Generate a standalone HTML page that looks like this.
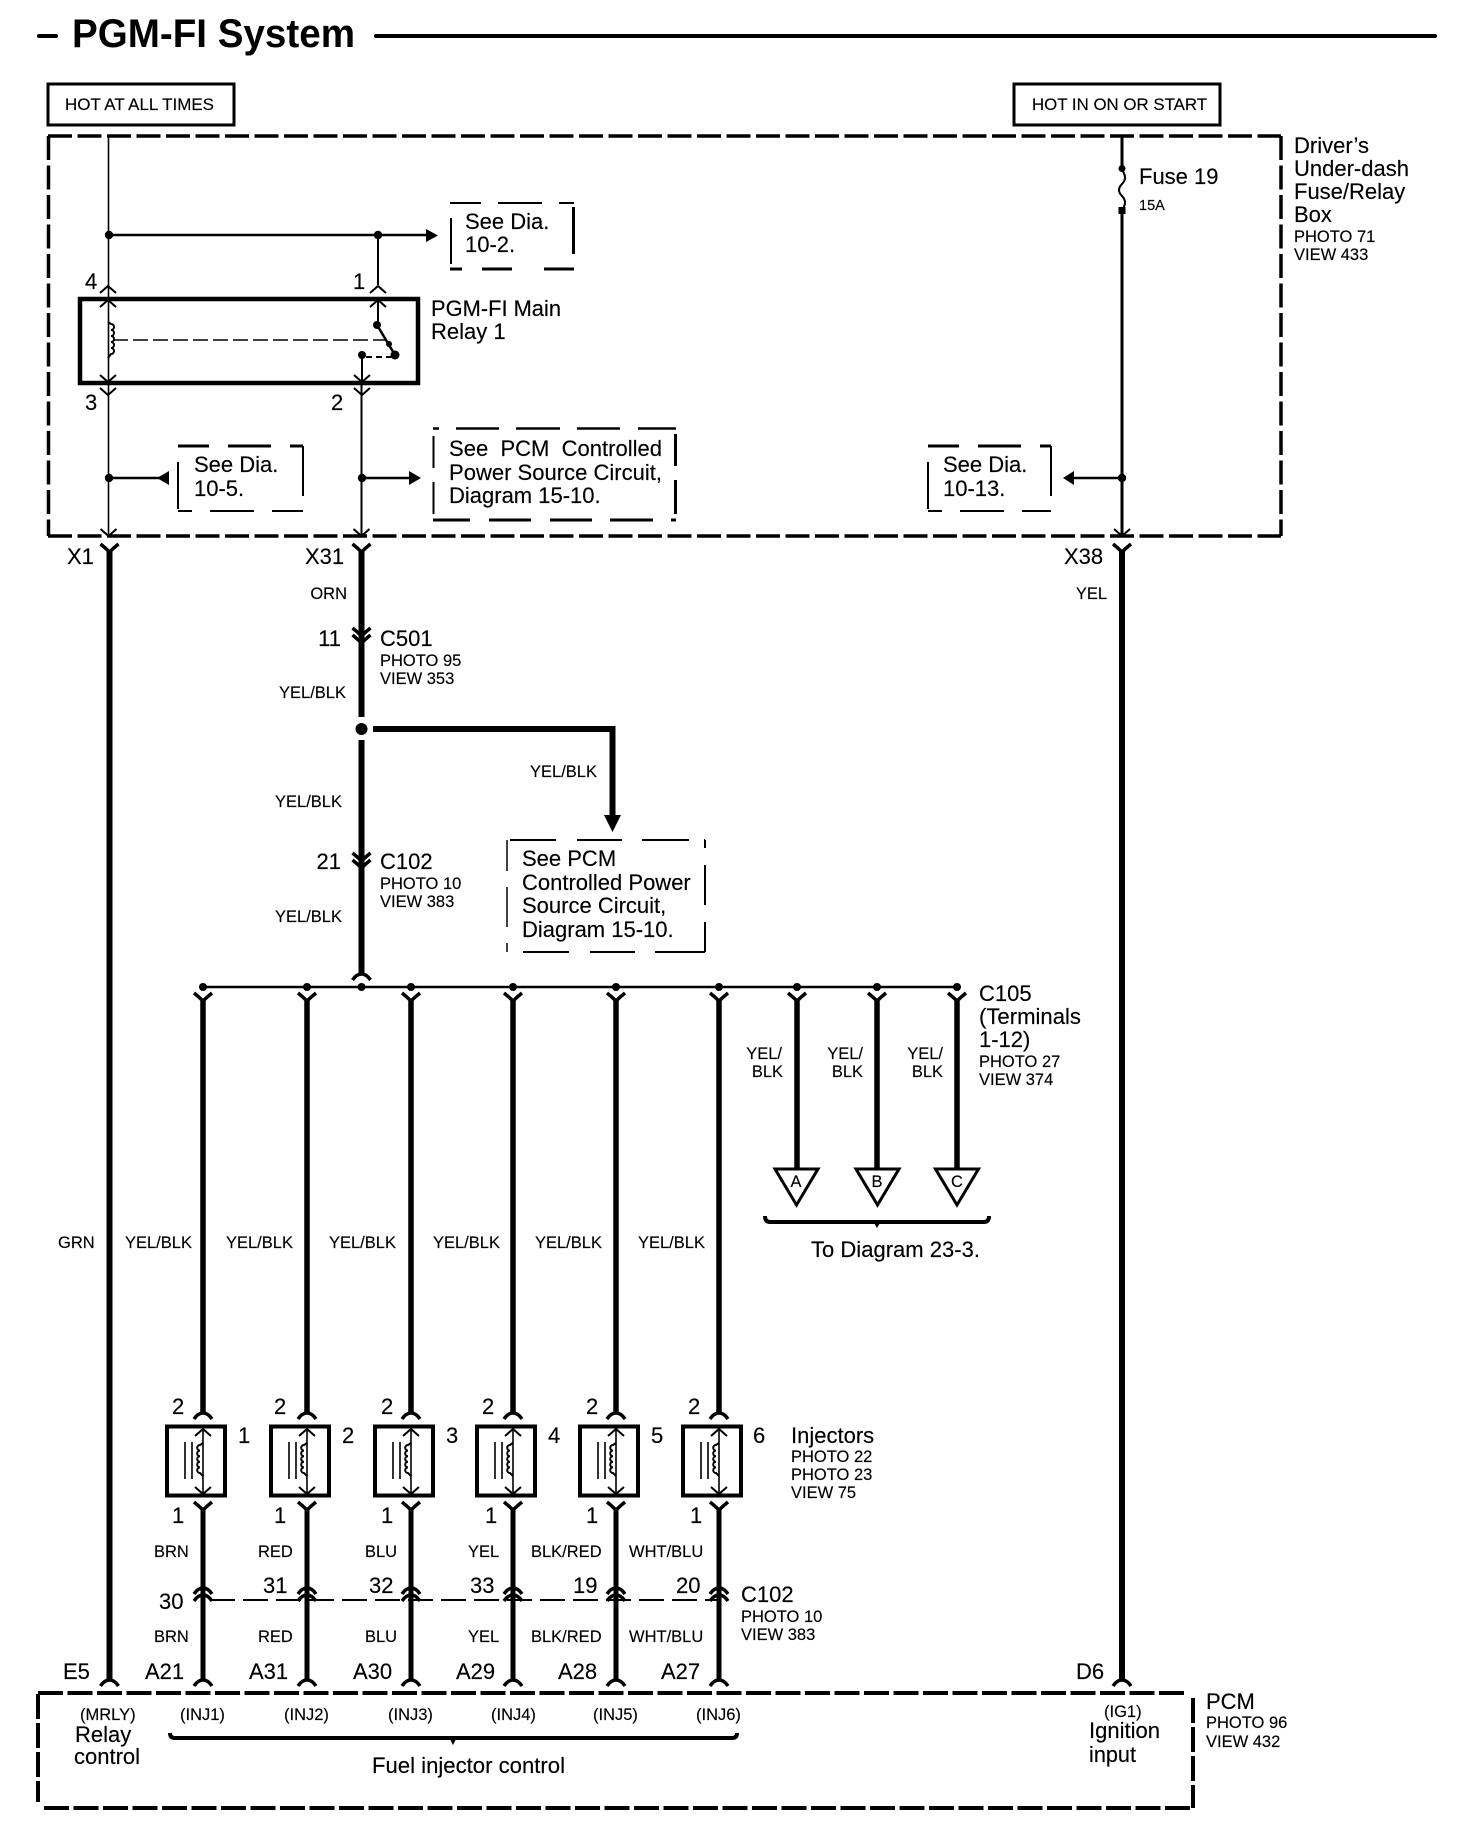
<!DOCTYPE html>
<html><head><meta charset="utf-8"><title>PGM-FI System</title>
<style>
html,body{margin:0;padding:0;background:#fff}
svg{display:block}
text{font-family:"Liberation Sans",Arial,sans-serif;font-size:22px;fill:#000;stroke:#000;stroke-width:.15px}
.s{font-size:16.5px}
.t{fill:none;stroke:#000}
</style></head><body>
<svg xmlns="http://www.w3.org/2000/svg" width="1472" height="1840" viewBox="0 0 1472 1840">
<defs>
<path id="up" d="M-8 7L0 0L8 7" fill="none" stroke="#000" stroke-width="2"/>
<path id="dn" d="M-8 -7L0 0L8 -7" fill="none" stroke="#000" stroke-width="2"/>
<path id="capU" d="M-9 6Q-5 0 0 0Q5 0 9 6" fill="none" stroke="#000" stroke-width="3.5"/>
<path id="capD" d="M-9 -7Q-4 -3 0 1Q4 -3 9 -7" fill="none" stroke="#000" stroke-width="3.5"/>
<g id="inj">
<rect x="-36" y="1426.500" width="58" height="69" fill="#fff" stroke="#000" stroke-width="4"/>
<path d="M0 1427V1495" class="t" stroke-width="1.6"/>
<use href="#up" x="0" y="1429"/>
<use href="#dn" x="0" y="1494"/>
<path d="M0 1443L-3 1445a2.800 2.800 0 0 0 0 5.600a2.800 2.800 0 0 0 0 5.600a2.800 2.800 0 0 0 0 5.600a2.800 2.800 0 0 0 0 5.600a2.800 2.800 0 0 0 0 5.600L0 1476" class="t" stroke-width="2"/>
<path d="M-18 1442V1479M-11 1442V1479" class="t" stroke-width="1.6"/>
</g>
</defs>

<!-- title -->
<path d="M39 36H56M376 36H1435" stroke="#000" stroke-width="4" stroke-linecap="round"/>
<text x="72" y="47" style="font-size:40px;font-weight:bold;stroke:none" textLength="283" lengthAdjust="spacingAndGlyphs">PGM-FI System</text>

<!-- hot boxes -->
<rect x="48" y="84" width="186" height="41" class="t" stroke-width="3"/>
<text class="s" x="65" y="110" textLength="149" lengthAdjust="spacingAndGlyphs">HOT AT ALL TIMES</text>
<rect x="1014" y="84" width="206" height="41" class="t" stroke-width="3"/>
<text class="s" x="1032" y="110" textLength="175" lengthAdjust="spacingAndGlyphs">HOT IN ON OR START</text>

<!-- under-dash box -->
<path d="M48 136H1281" class="t" stroke-width="3.5" stroke-dasharray="24 5.5"/>
<path d="M48 536H1281" class="t" stroke-width="3.5" stroke-dasharray="24 5.5"/>
<path d="M48.500 136V536" class="t" stroke-width="3.5" stroke-dasharray="24 5.5"/>
<path d="M1281 136V536" class="t" stroke-width="3.5" stroke-dasharray="24 5.5"/>

<text x="1294" y="153">Driver’s</text>
<text x="1294" y="176">Under-dash</text>
<text x="1294" y="199">Fuse/Relay</text>
<text x="1294" y="222">Box</text>
<text class="s" x="1294" y="242">PHOTO 71</text>
<text class="s" x="1294" y="260">VIEW 433</text>

<!-- thin wires upper left -->
<path d="M108.500 136V536" class="t" stroke-width="1.6"/>
<path d="M109 235H428" class="t" stroke-width="2.400"/>
<path d="M378 235V285" class="t" stroke-width="2"/>
<circle cx="109" cy="235" r="4.200"/><circle cx="378" cy="235" r="4.200"/>
<path d="M426 229V242L438 235.500Z"/>
<use href="#up" x="108" y="286"/><use href="#up" x="378" y="286"/>

<!-- 10-2 box -->
<path d="M450 203H481M498 203H542M559 203H574M451 218V264" class="t" stroke-width="2"/>
<path d="M573.500 207V254M450 269H462M482 269H512M544 269H574" class="t" stroke-width="3"/>
<text x="465" y="229">See Dia.</text><text x="465" y="252">10-2.</text>

<!-- relay -->
<rect x="80" y="299" width="338" height="84" class="t" stroke-width="4.500"/>
<use href="#up" x="108" y="300"/><use href="#up" x="378" y="300"/>
<use href="#dn" x="108" y="382"/><use href="#dn" x="362" y="382"/>
<path d="M378 299V325M362 355V383" class="t" stroke-width="2"/>
<path d="M108 322L111 324a3 3 0 0 1 0 6a3 3 0 0 1 0 6a3 3 0 0 1 0 6a3 3 0 0 1 0 6a3 3 0 0 1 0 6L108 358" class="t" stroke-width="2"/>
<path d="M113 340H385" class="t" stroke-width="1.500" stroke-dasharray="15 5"/>
<path d="M377 325L395 355" class="t" stroke-width="2.500"/>
<circle cx="377" cy="325" r="4"/><circle cx="389" cy="344" r="3"/><circle cx="395" cy="355" r="4.500"/><circle cx="362" cy="355" r="4"/>
<path d="M366 357H395" class="t" stroke-width="2" stroke-dasharray="6 4"/>
<text x="431" y="316" textLength="130" lengthAdjust="spacingAndGlyphs">PGM-FI Main</text><text x="431" y="339">Relay 1</text>
<text x="85" y="289">4</text><text x="353" y="289">1</text>
<text x="85" y="410">3</text><text x="331" y="410">2</text>
<use href="#dn" x="108" y="395"/><use href="#dn" x="362" y="395"/>

<path d="M361.500 383V536" class="t" stroke-width="2"/>
<circle cx="109" cy="478" r="4.200"/><circle cx="362" cy="478" r="4.200"/>
<path d="M109 478H160M362 478H412" class="t" stroke-width="2.400"/>
<path d="M169 471V485L157 478Z"/>
<path d="M409 471V485L421 478Z"/>

<!-- 10-5 box -->
<path d="M178 446H209M228 446H271M290 446H303" class="t" stroke-width="3"/>
<path d="M178 462V509M303 446V496M178 511H192M210 511H254M272 511H303" class="t" stroke-width="2"/>
<text x="194" y="472">See Dia.</text><text x="194" y="496">10-5.</text>

<!-- PCM box 1 -->
<path d="M433 428.500H439M456 428.500H499M516 428.500H560M577 428.500H620M638 428.500H676" class="t" stroke-width="2.500"/>
<path d="M433.500 436V468M433.500 482V514" class="t" stroke-width="2"/>
<path d="M675.500 434V466M675.500 480V514M433 520H470M489 520H531M550 520H592M610 520H653M671 520H676" class="t" stroke-width="3"/>
<text x="449" y="456" textLength="213" lengthAdjust="spacing" xml:space="preserve">See  PCM  Controlled</text>
<text x="449" y="480" textLength="213" lengthAdjust="spacingAndGlyphs">Power Source Circuit,</text>
<text x="449" y="503">Diagram 15-10.</text>

<!-- fuse wire -->
<path d="M1122 136V168M1122 211V536" class="t" stroke-width="3"/>
<circle cx="1122" cy="168.500" r="3.500"/><rect x="1118.500" y="207" width="7" height="7"/>
<path d="M1122 170Q1128 178 1122 184Q1116 190 1122 196Q1128 202 1122 210" class="t" stroke-width="2"/>
<text x="1139" y="184">Fuse 19</text><text x="1139" y="210" style="font-size:14.500px">15A</text>
<circle cx="1122" cy="478" r="4.200"/>
<path d="M1072 478H1122" class="t" stroke-width="2.400"/>
<path d="M1074 471V485L1063 478Z"/>

<!-- 10-13 box -->
<path d="M928 446H959M978 446H1021M1040 446H1051" class="t" stroke-width="3"/>
<path d="M928 462V509M1051 446V496M928 511H942M960 511H1004M1022 511H1051" class="t" stroke-width="2"/>
<text x="943" y="472">See Dia.</text><text x="943" y="496">10-13.</text>

<!-- entry chevrons -->
<use href="#dn" x="108.500" y="536"/><use href="#dn" x="361.500" y="536"/><use href="#dn" x="1122" y="536"/>
<text x="67" y="564">X1</text><text x="305" y="564">X31</text><text x="1064" y="564">X38</text>

<!-- main thick wires -->
<path d="M109.500 551V1680M1122 551V1680" class="t" stroke-width="6"/>
<use href="#capD" x="109.500" y="551"/><use href="#capD" x="361.500" y="551"/><use href="#capD" x="1122" y="551"/>
<path d="M361.500 551V717M361.500 740V974" class="t" stroke-width="6"/>
<use href="#capD" x="361.500" y="635"/><use href="#capD" x="361.500" y="642"/>
<use href="#capD" x="361.500" y="860"/><use href="#capD" x="361.500" y="867"/>
<use href="#capU" x="361.500" y="974"/>
<circle cx="361.500" cy="729" r="6"/>
<path d="M373 729H612.500V816" class="t" stroke-width="6"/>
<path d="M604 815H621L612.500 832Z"/>

<text class="s" x="347" y="599" text-anchor="end">ORN</text>
<text class="s" x="1107" y="599" text-anchor="end">YEL</text>
<text x="341" y="646" text-anchor="end">11</text>
<text x="380" y="646">C501</text><text class="s" x="380" y="666">PHOTO 95</text><text class="s" x="380" y="684">VIEW 353</text>
<text class="s" x="346" y="698" text-anchor="end">YEL/BLK</text>
<text class="s" x="597" y="777" text-anchor="end">YEL/BLK</text>
<text class="s" x="342" y="807" text-anchor="end">YEL/BLK</text>
<text x="341" y="869" text-anchor="end">21</text>
<text x="380" y="869">C102</text><text class="s" x="380" y="889">PHOTO 10</text><text class="s" x="380" y="907">VIEW 383</text>
<text class="s" x="342" y="922" text-anchor="end">YEL/BLK</text>

<!-- PCM box 2 -->
<path d="M510 840H556M577 840H622M642 840H689M704 840H705M705 840V848M705 865V905M705 922V952M523 952H569M590 952H635M655 952H705" class="t" stroke-width="2"/>
<path d="M507 840V871M507 887V927M507 943V952" class="t" stroke-width="1.500"/>
<text x="522" y="866">See PCM</text><text x="522" y="890">Controlled Power</text><text x="522" y="913">Source Circuit,</text><text x="522" y="937">Diagram 15-10.</text>

<!-- bus -->
<path d="M203 987H957" class="t" stroke-width="2.400"/>
<g>
<circle cx="203" cy="987" r="4"/><circle cx="307" cy="987" r="4"/><circle cx="361.500" cy="987" r="4"/><circle cx="411" cy="987" r="4"/><circle cx="513" cy="987" r="4"/><circle cx="616" cy="987" r="4"/><circle cx="719" cy="987" r="4"/><circle cx="797" cy="987" r="4"/><circle cx="877" cy="987" r="4"/><circle cx="957" cy="987" r="4"/>
</g>
<g>
<use href="#capD" x="203" y="1000"/><use href="#capD" x="307" y="1000"/><use href="#capD" x="411" y="1000"/><use href="#capD" x="513" y="1000"/><use href="#capD" x="616" y="1000"/><use href="#capD" x="719" y="1000"/><use href="#capD" x="797" y="1000"/><use href="#capD" x="877" y="1000"/><use href="#capD" x="957" y="1000"/>
</g>
<path d="M203 999V1413M307 999V1413M411 999V1413M513 999V1413M616 999V1413M719 999V1413" class="t" stroke-width="5.500"/>
<path d="M797 999V1169M877 999V1169M957 999V1169" class="t" stroke-width="5.500"/>
<path d="M775 1169H818L796.500 1205Z" fill="#fff" stroke="#000" stroke-width="3"/>
<path d="M856 1169H899L877.500 1205Z" fill="#fff" stroke="#000" stroke-width="3"/>
<path d="M935.500 1169H978.500L957 1205Z" fill="#fff" stroke="#000" stroke-width="3"/>
<text class="s" x="796" y="1187" text-anchor="middle">A</text><text class="s" x="877" y="1187" text-anchor="middle">B</text><text class="s" x="957" y="1187" text-anchor="middle">C</text>
<path d="M765 1216Q765 1222 770 1222H984Q989 1222 989 1216" class="t" stroke-width="4"/>
<path d="M874 1222H880L877 1227Z" stroke="#000"/>
<text x="811" y="1257" textLength="169" lengthAdjust="spacingAndGlyphs">To Diagram 23-3.</text>
<text x="979" y="1001">C105</text><text x="979" y="1024" textLength="102" lengthAdjust="spacingAndGlyphs">(Terminals</text><text x="979" y="1047">1-12)</text>
<text class="s" x="979" y="1067">PHOTO 27</text><text class="s" x="979" y="1085">VIEW 374</text>
<text class="s" x="782" y="1059" text-anchor="end">YEL/</text><text class="s" x="783" y="1077" text-anchor="end">BLK</text>
<text class="s" x="863" y="1059" text-anchor="end">YEL/</text><text class="s" x="863" y="1077" text-anchor="end">BLK</text>
<text class="s" x="943" y="1059" text-anchor="end">YEL/</text><text class="s" x="943" y="1077" text-anchor="end">BLK</text>

<text class="s" x="58" y="1248">GRN</text>
<text class="s" x="125" y="1248">YEL/BLK</text><text class="s" x="226" y="1248">YEL/BLK</text><text class="s" x="329" y="1248">YEL/BLK</text><text class="s" x="433" y="1248">YEL/BLK</text><text class="s" x="535" y="1248">YEL/BLK</text><text class="s" x="638" y="1248">YEL/BLK</text>

<!-- injectors -->
<use href="#capU" x="203" y="1413"/><use href="#capU" x="307" y="1413"/><use href="#capU" x="411" y="1413"/><use href="#capU" x="513" y="1413"/><use href="#capU" x="616" y="1413"/><use href="#capU" x="719" y="1413"/>
<use href="#inj" x="203"/><use href="#inj" x="307"/><use href="#inj" x="411"/><use href="#inj" x="513"/><use href="#inj" x="616"/><use href="#inj" x="719"/>
<use href="#capD" x="203" y="1509"/><use href="#capD" x="307" y="1509"/><use href="#capD" x="411" y="1509"/><use href="#capD" x="513" y="1509"/><use href="#capD" x="616" y="1509"/><use href="#capD" x="719" y="1509"/>
<path d="M203 1508V1680M307 1508V1680M411 1508V1680M513 1508V1680M616 1508V1680M719 1508V1680" class="t" stroke-width="5"/>
<g>
<use href="#capU" x="203" y="1588"/><use href="#capU" x="203" y="1595"/>
<use href="#capU" x="307" y="1588"/><use href="#capU" x="307" y="1595"/>
<use href="#capU" x="411" y="1588"/><use href="#capU" x="411" y="1595"/>
<use href="#capU" x="513" y="1588"/><use href="#capU" x="513" y="1595"/>
<use href="#capU" x="616" y="1588"/><use href="#capU" x="616" y="1595"/>
<use href="#capU" x="719" y="1588"/><use href="#capU" x="719" y="1595"/>
</g>
<path d="M210 1600H719" class="t" stroke-width="2" stroke-dasharray="25 8"/>
<g>
<use href="#capU" x="109.500" y="1680"/><use href="#capU" x="203" y="1680"/><use href="#capU" x="307" y="1680"/><use href="#capU" x="411" y="1680"/><use href="#capU" x="513" y="1680"/><use href="#capU" x="616" y="1680"/><use href="#capU" x="719" y="1680"/><use href="#capU" x="1122" y="1680"/>
</g>

<text x="172" y="1414">2</text><text x="274" y="1414">2</text><text x="381" y="1414">2</text><text x="482" y="1414">2</text><text x="586" y="1414">2</text><text x="688" y="1414">2</text>
<text x="172" y="1523">1</text><text x="274" y="1523">1</text><text x="381" y="1523">1</text><text x="485" y="1523">1</text><text x="586" y="1523">1</text><text x="690" y="1523">1</text>
<text x="238" y="1443">1</text><text x="342" y="1443">2</text><text x="446" y="1443">3</text><text x="548" y="1443">4</text><text x="651" y="1443">5</text><text x="753" y="1443">6</text>
<text x="791" y="1443">Injectors</text><text class="s" x="791" y="1462">PHOTO 22</text><text class="s" x="791" y="1480">PHOTO 23</text><text class="s" x="791" y="1498">VIEW 75</text>

<text class="s" x="154" y="1557">BRN</text><text class="s" x="258" y="1557">RED</text><text class="s" x="365" y="1557">BLU</text><text class="s" x="468" y="1557">YEL</text><text class="s" x="531" y="1557">BLK/RED</text><text class="s" x="629" y="1557">WHT/BLU</text>
<text class="s" x="154" y="1642">BRN</text><text class="s" x="258" y="1642">RED</text><text class="s" x="365" y="1642">BLU</text><text class="s" x="468" y="1642">YEL</text><text class="s" x="531" y="1642">BLK/RED</text><text class="s" x="629" y="1642">WHT/BLU</text>

<text x="159" y="1609">30</text><text x="263" y="1593">31</text><text x="369" y="1593">32</text><text x="470" y="1593">33</text><text x="573" y="1593">19</text><text x="676" y="1593">20</text>
<text x="741" y="1602">C102</text><text class="s" x="741" y="1622">PHOTO 10</text><text class="s" x="741" y="1640">VIEW 383</text>

<text x="63" y="1679">E5</text><text x="145" y="1679">A21</text><text x="249" y="1679">A31</text><text x="353" y="1679">A30</text><text x="456" y="1679">A29</text><text x="558" y="1679">A28</text><text x="661" y="1679">A27</text><text x="1076" y="1679">D6</text>

<!-- PCM box -->
<path d="M38 1693H1188" class="t" stroke-width="4" stroke-dasharray="25 4.500"/>
<path d="M44 1808H1193" class="t" stroke-width="4" stroke-dasharray="25 4.500"/>
<path d="M38 1694V1802" class="t" stroke-width="4" stroke-dasharray="25 4"/>
<path d="M1193 1698V1808" class="t" stroke-width="4" stroke-dasharray="25 4"/>

<text class="s" x="80" y="1720">(MRLY)</text>
<text class="s" x="180" y="1720">(INJ1)</text><text class="s" x="284" y="1720">(INJ2)</text><text class="s" x="388" y="1720">(INJ3)</text><text class="s" x="491" y="1720">(INJ4)</text><text class="s" x="593" y="1720">(INJ5)</text><text class="s" x="696" y="1720">(INJ6)</text>
<text x="75" y="1742">Relay</text><text x="74" y="1764">control</text>
<path d="M170 1733Q170 1738 175 1738H732Q737 1738 737 1733" class="t" stroke-width="4"/>
<path d="M450 1738H456L453 1744Z" stroke="#000"/>
<text x="372" y="1773" textLength="193" lengthAdjust="spacingAndGlyphs">Fuel injector control</text>
<text class="s" x="1104" y="1717">(IG1)</text><text x="1089" y="1738" textLength="71" lengthAdjust="spacingAndGlyphs">Ignition</text><text x="1089" y="1762" textLength="47" lengthAdjust="spacingAndGlyphs">input</text>
<text x="1206" y="1709">PCM</text><text class="s" x="1206" y="1728">PHOTO 96</text><text class="s" x="1206" y="1747">VIEW 432</text>
</svg>
</body></html>
